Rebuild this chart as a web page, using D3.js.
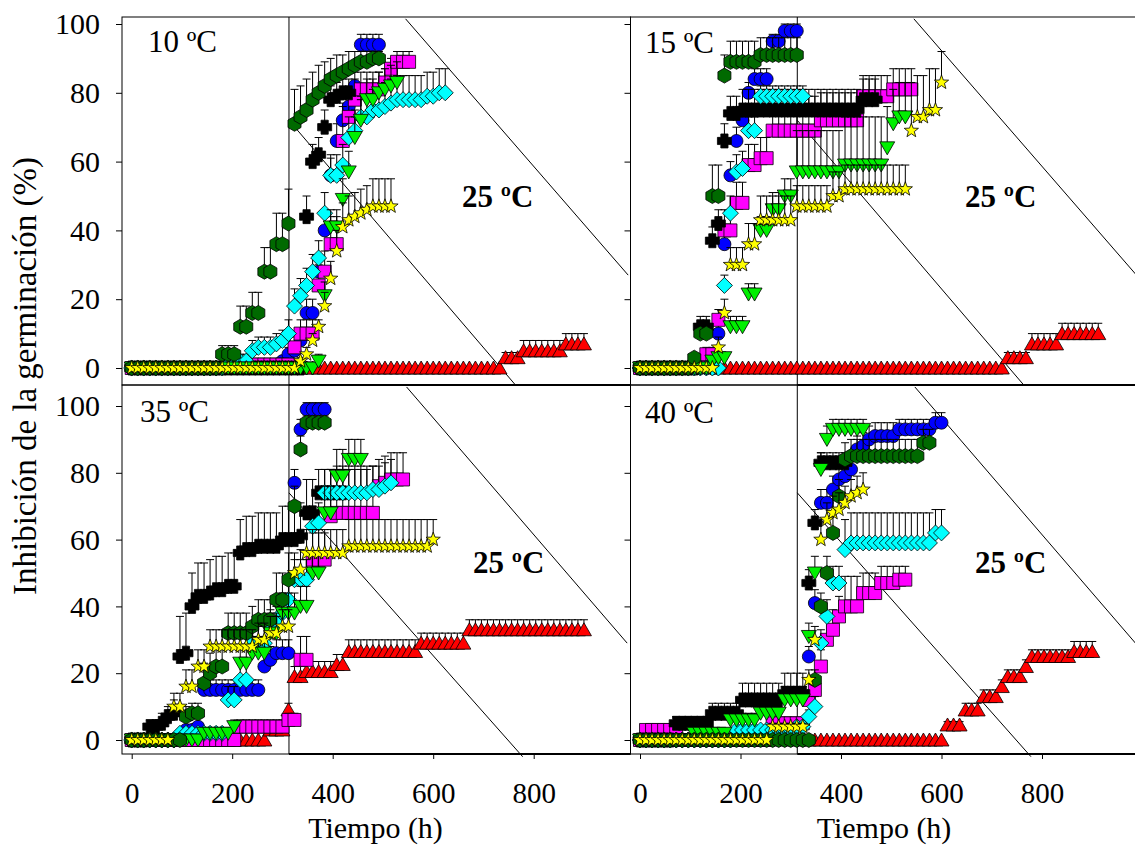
<!DOCTYPE html>
<html><head><meta charset="utf-8">
<script src="https://cdn.jsdelivr.net/npm/d3@7"></script>
<style>
body{margin:0;background:#fff}
svg{display:block}
text{font-family:"Liberation Serif","Times New Roman",serif;fill:#000}
</style>
</head><body>
<svg id="chart" width="1135" height="846"></svg>
<script>
// ---------------- DATA ----------------
const STEP = 12;                       // hours between readings
const xTicks = [0, 200, 400, 600, 800];
const yTicks = [0, 20, 40, 60, 80, 100];
const panelTitles = ["10 ºC", "15 ºC", "35 ºC", "40 ºC"];
const transferLabel = "25 ºC";
const transferTime = 313;
const xTitle = "Tiempo (h)";
const yTitle = "Inhibición de la germinación (%)";
// series order: red triangle, blue circle, magenta square, black cross, cyan diamond, green down-triangle, dark-green hexagon, yellow star
const seriesKeys = ["red", "blue", "magenta", "black", "cyan", "lgreen", "hex", "star"];

// ---- 10 ºC ----
const c10_start = [324, 0, 0, 0, 0, 0, 0, 0];
const c10_red = [0,0,0,0,0, 0,0,0,0,0, 0,0,0,0,0, 0,0,0,0,0, 0,0,0,0,0, 0,0,0,0,0, 0,0,0,0,0, 3,3,3,5,5,5,5,5,5,5,7,7,7,7];
const c10_red_err = [0,0,0,0,0, 0,0,0,0,0, 0,0,0,0,0, 0,0,0,0,0, 0,0,0,0,0, 0,0,0,0,0, 0,0,0,0,0, 1.5,1.5,1.5,3,3,3,3,3,3,3,3,3,3,3];
const c10_blue = [0,0,0,0,0, 0,0,0,0,0, 0,0,0,0,0, 0,0,0,0,0, 0,0,0,0,0, 2,4,5,8,16,16,28,40,56,66,72,76,82,94,94,94,94];
const c10_blue_err = [0,0,0,0,0, 0,0,0,0,0, 0,0,0,0,0, 0,0,0,0,0, 0,0,0,0,0, 1,2,2,3,4,4,5,5,5,5,5,5,4,3,3,3,3];
const c10_magenta = [0,0,0,0,0, 0,0,0,0,0, 0,0,0,0,0, 0,0,0, 1,1,1,1,1,1,1,1,1, 6,10,10,10,24,28,36,36,66,73,78,81,81,81,81,83,87,89,89,89];
const c10_magenta_err = [0,0,0,0,0, 0,0,0,0,0, 0,0,0,0,0, 0,0,0, 1,1,1,1,1,1,1,1,1, 3,4,4,4,6,6,8,8,10,8,6,5,5,5,5,4,3,3,3,3];
const c10_black = [0,0,0,0,0, 0,0,0,0,0, 0,0,0,0,0, 0,0,0,0,0, 0,0,0,0,0, 0,0,0,0, 44,60,62,70,78,79,80,80];
const c10_black_err = [0,0,0,0,0, 0,0,0,0,0, 0,0,0,0,0, 0,0,0,0,0, 0,0,0,0,0, 0,0,0,0, 6,5,5,5,4,4,4,4];
const c10_cyan = [0,0,0,0,0, 0,0,0,0,0, 0,0,0,0,0, 0, 1,1,2,2,5,6,6,6,7,8,10, 18,21,24,28,32,45,56,56,59,67,69,73,73,75,75,76,77,78,78,78,78,78,79,79,80,80];
const c10_cyan_err = [0,0,0,0,0, 0,0,0,0,0, 0,0,0,0,0, 0, 1,1,2,2,3,3,3,3,3,3,4, 5,5,5,5,5,6,6,6,6,6,6,6,6,6,6,7,7,7,7,7,7,7,7,7,7,7];
const c10_lgreen = [0,0,0,0,0, 0,0,0,0,0, 0,0,0,0,0, 0,0,0,0,0, 0,0,0,0,0, 0,0,0,0,0, 0, 2,21,41,41,49,57,67,72,78,78,80,81,82,83];
const c10_lgreen_err = [0,0,0,0,0, 0,0,0,0,0, 0,0,0,0,0, 0,0,0,0,0, 0,0,0,0,0, 0,0,0,0,0, 0, 2,4,5,5,6,6,6,6,6,6,6,6,6,6];
const c10_hex = [0,0,0,0,0, 0,0,0,0,0, 0,0,0,0,0, 4,4,4,12,12,16,16,28,28,36,36,42, 71,73,75,78,80,82,84,85,86,87,88,89,89,90,90];
const c10_hex_err = [0,0,0,0,0, 0,0,0,0,0, 0,0,0,0,0, 2.5,2.5,2.5,6,6,6,6,7,7,9,9,10, 10,9,9,8,8,7,6,6,5,5,4,3,3,2,2];
const c10_star = [0,0,0,0,0, 0,0,0,0,0, 0,0,0,0,0, 0,0,0,0,0, 0,0,0,0,0, 0,0,0, 2,4,8,12,18,26,34,41,43,44,45,46,47,47,47,47];
const c10_star_err = [0,0,0,0,0, 0,0,0,0,0, 0,0,0,0,0, 0,0,0,0,0, 0,0,0,0,0, 0,0,0, 1,2,2,2,4,5,6,7,7,7,7,7,8,8,8,8];

// ---- 15 ºC ----
const c15_start = [144, 0, 0, 0, 0, 0, 0, 0];
const c15_red = [0,0,0,0,0, 0,0,0,0,0, 0,0,0,0,0, 0,0,0,0,0, 0,0,0,0,0, 0,0,0,0,0, 0,0,0,0,0, 0,0,0,0,0, 0,0,0,0,0, 0,0,0,0, 3,3,3,3,7,7,7,7,7,10,10,10,10,10,10,10];
const c15_red_err = [0,0,0,0,0, 0,0,0,0,0, 0,0,0,0,0, 0,0,0,0,0, 0,0,0,0,0, 0,0,0,0,0, 0,0,0,0,0, 0,0,0,0,0, 0,0,0,0,0, 0,0,0,0, 1.5,1.5,1.5,1.5,3,3,3,3,3,3,3,3,3,3,3,3];
const c15_blue = [0,0,0,0,0, 0,0,0,0,0, 0,0,0, 10,36,56,66,72,80,84,84,84,95,95,98,98,98];
const c15_blue_err = [0,0,0,0,0, 0,0,0,0,0, 0,0,0, 3,4,4,4,4,3,3,3,3,2,2,2,2,2];
const c15_magenta = [0,0,0,0,0, 0,0,0,0,0, 2,4,4,14,40,40,48,48,59,59,61,61, 69,69,69,69,69,69,69,69, 72,72,72,72,72,72,72, 79,79,79,79,79, 81,81,81,81];
const c15_magenta_err = [0,0,0,0,0, 0,0,0,0,0, 1,2,2,3,6,6,6,6,6,6,6,6, 10,10,10,10,10,10,10,10, 8,8,8,8,8,8,8, 6,6,6,6,6, 6,6,6,6];
const c15_black = [0,0,0,0,0, 0,0,0,0,0, 12,12,37,42,66,74,74, 75,75,75,75,75,75,75,75,75,75,75,75,75,75,75,75,75,75,75,75, 78,78,78];
const c15_black_err = [0,0,0,0,0, 0,0,0,0,0, 3,3,4,4,5,5,5, 6,6,6,6,6,6,6,6,6,6,6,6,6,6,6,6,6,6,6,6, 6,6,6];
const c15_cyan = [0,0,0,0,0, 0,0,0,0,0, 0,0,0,0, 24,45,57,58,69,69, 79,79,79,79,79,79,79,79];
const c15_cyan_err = [0,0,0,0,0, 0,0,0,0,0, 0,0,0,0, 3,5,5,5,4,4, 3,3,3,3,3,3,3,3];
const c15_lgreen = [0,0,0,0,0, 0,0,0,0,0, 0,0, 2,3,3,12,12,12,21.5,21.5,40,40,46,46,50,50, 57,57,57,57,57,57,57,57, 59,59,59,59,59,59,59, 64,71,73,73];
const c15_lgreen_err = [0,0,0,0,0, 0,0,0,0,0, 0,0, 1,1,1,3,3,3,3,3,4,4,5,5,5,5, 12,12,12,12,12,12,12,12, 14,14,14,14,14,14,14, 12,10,10,10];
const c15_hex = [0,0,0,0,0, 0,0,0,0, 3,10,10,50,50,85,89,89,89,89,89,91,91,91,91,91,91,91];
const c15_hex_err = [0,0,0,0,0, 0,0,0,0, 1,3,3,9,9,6,6,6,6,6,6,5,5,5,5,5,5,5];
const c15_star = [0,0,0,0,0, 0,0,0,0,0, 0,0,0, 6,16,30,30,30,36,36, 43,43,43,43,43,43, 47,47,47,47,47,47, 50,50, 52,52,52,52,52,52,52,52,52,52,52, 69,73,73,75,75,83];
const c15_star_err = [0,0,0,0,0, 0,0,0,0,0, 0,0,0, 3,4,5,5,5,6,6, 7,7,7,7,7,7, 6,6,6,6,6,6, 7,7, 7,7,7,7,7,7,7,7,7,7,7, 14,12,12,12,12,9];

// ---- 35 ºC ----
const c35_start = [132, 0, 0, 0, 0, 0, 0, 0];
const c35_red = [0,0,0,0,0, 0,0,0,0,0, 0,0, 3,3,3,9,19,19, 20.5,20.5,20.5,20.5,20.5, 22.6,22.6, 26.5,26.5,26.5,26.5,26.5,26.5,26.5,26.5,26.5,26.5,26.5,26.5, 29,29,29,29,29,29,29,29, 33,33,33,33,33,33,33,33,33,33,33,33,33,33,33,33,33,33,33,33];
const c35_red_err = [0,0,0,0,0, 0,0,0,0,0, 0,0, 1,1,1,2,3,3, 3,3,3,3,3, 3,3, 3.5,3.5,3.5,3.5,3.5,3.5,3.5,3.5,3.5,3.5,3.5,3.5, 3,3,3,3,3,3,3,3, 3,3,3,3,3,3,3,3,3,3,3,3,3,3,3,3,3,3,3,3];
const c35_blue = [0,0,0,0,0, 0,0,0,0, 3,3,4, 15,15,15,15,15,15,15,15,15,15, 22,24,26,26,26,77,93,99,99,99,99];
const c35_blue_err = [0,0,0,0,0, 0,0,0,0, 1,1,1, 3,3,3,3,3,3,3,3,3,3, 4,4,4,4,4,4,3,2,2,2,2];
const c35_magenta = [0,0,0,0,0, 0,0,0,0,0, 0,0,0,0,0, 0,0,0, 4,4,4,4,4,4,4,4, 6,6,24,24,54,54,54,67, 68,68,68,68,68,68,68, 76,77,78,78,78];
const c35_magenta_err = [0,0,0,0,0, 0,0,0,0,0, 0,0,0,0,0, 0,0,0, 2,2,2,2,2,2,2,2, 2,2,7,7,8,8,8,14, 14,14,14,14,14,14,14, 8,8,8,8,8];
const c35_black = [0,0,0,4,4,5,7,8,25,26,40,43,43,44,45,45,46,46,56,57,57,58,58,58,58,60,60,60,61,68,68,74,74,74,74,74];
const c35_black_err = [0,0,0,2,2,3,3,4,12,12,10,10,10,10,10,10,10,10,10,10,10,10,10,10,10,10,10,10,10,10,10,7,7,7,7,7];
const c35_cyan = [0,0,0,0,0, 0,0,0, 2,2,2,2,2,2,2,2, 12,12,18,18,29,29,29,34,35,38,42,48,48,48,64,65, 74,74,74,74,74,74,74,74, 75,75,76,77];
const c35_cyan_err = [0,0,0,0,0, 0,0,0, 1,1,1,1,1,1,1,1, 4,4,5,5,5,5,5,5,5,6,6,6,6,6,6,6, 7,7,7,7,7,7,7,7, 7,7,7,7];
const c35_lgreen = [0,0,0,0,0, 0,0,0,0,0, 0,0, 2,2,2,2,2, 4,23,23,26,26,26,32,32,38,38,38,40,40,50,50,68,68,79,79,84,84,84];
const c35_lgreen_err = [0,0,0,0,0, 0,0,0,0,0, 0,0, 1,1,1,1,1, 2,5,5,5,5,5,6,6,6,6,6,6,6,6,6,8,8,8,8,6,6,6];
const c35_hex = [0,0,0,0,0, 0,0,0,0, 7,8,8,17,20,22,22,32,32,32,32,34,36,36,36,42,42,48,70,87,95,95,95,95];
const c35_hex_err = [0,0,0,0,0, 0,0,0,0, 3,3,3,6,6,6,6,6,6,6,6,6,6,6,6,8,8,8,6,4,2,2,2,2];
const c35_star = [0,0,0,0,0, 0,0, 10,10,16,16,22,22, 28,28,28,28,28,28,28,28, 30,30,32,32,34,34, 50,51, 56,56,56,56,56,56,56, 58,58,58,58,58,58,58,58,58,58,58,58,58,58, 60];
const c35_star_err = [0,0,0,0,0, 0,0, 4,4,5,5,5,5, 5,5,5,5,5,5,5,5, 5,5,5,5,5,5, 6,6, 7,7,7,7,7,7,7, 8,8,8,8,8,8,8,8,8,8,8,8,8,8, 6];

// ---- 40 ºC ----
const c40_start = [336, 0, 0, 0, 0, 0, 0, 0];
const c40_red = [0,0,0,0,0, 0,0,0,0,0, 0,0,0,0,0, 0,0,0,0,0, 0,0,0, 4.5,4.5,4.5,9,9,9,13,13,13,16,19,19,19,22, 25,25,25,25,25,25,25, 26.5,26.5,26.5,26.5];
const c40_red_err = [0,0,0,0,0, 0,0,0,0,0, 0,0,0,0,0, 0,0,0,0,0, 0,0,0, 1,1,1,2,2,2,2,2,2,2,2,2,2,2, 2,2,2,2,2,2,2, 3,3,3,3];
const c40_blue = [0,0,0,0,0, 0,0,0,0,0, 0,0,0,0,0, 0,0,0,0,0, 0,0,0,0,0, 0,0,0, 25,41,71,71,75,78,79,81,87,88,90, 91,91,91,91, 93,93,93,93,93,93, 95,95];
const c40_blue_err = [0,0,0,0,0, 0,0,0,0,0, 0,0,0,0,0, 0,0,0,0,0, 0,0,0,0,0, 0,0,0, 3,4,4,4,4,4,4,4,4,4,4, 4,4,4,4, 3,3,3,3,3,3, 3,3];
const c40_magenta = [0, 3,3,3,3,3,3, 0,0,0,0,0, 0,0,0,0,0, 0,0,0,0,0, 5,5,5,5,5,5, 12,15,22,30,33,37,40,40,40,44,44,44,47,47,47,48,48];
const c40_magenta_err = [0, 1,1,1,1,1,1, 0,0,0,0,0, 0,0,0,0,0, 0,0,0,0,0, 1,1,1,1,1,1, 3,4,5,6,6,6,9,9,9,6,6,6,5,5,5,4,4];
const c40_black = [0,0,0,0,0,0, 5,5,5,5,5,5, 8,8,8,8,8, 12,12,12,12,12,12,12, 14,14,14,14, 47,65, 83,83,83,83,83];
const c40_black_err = [0,0,0,0,0,0, 2,2,2,2,2,2, 3,3,3,3,3, 5,5,5,5,5,5,5, 6,6,6,6, 4,4, 3,3,3,3,3];
const c40_cyan = [0,0,0,0,0, 0,0,0,0,0, 0,0,0,0,0, 0, 3,3,3,3,3,3,3,3,3,3, 4,4, 7,10,29,37,47,47,57, 59,59,59,59,59,59,59,59,59,59,59,59,59,59, 62,62];
const c40_cyan_err = [0,0,0,0,0, 0,0,0,0,0, 0,0,0,0,0, 0, 1,1,1,1,1,1,1,1,1,1, 1,1, 2,3,4,5,5,5,9, 9,9,9,9,9,9,9,9,9,9,9,9,9,9, 7,7];
const c40_lgreen = [0,0,0,0,0, 0,0,0,0, 2,2,2,2,2,2, 6,6,6,6,6, 8,8,8,8, 12,12,12,12, 31,50,81,90, 93,93,93,93,93,93];
const c40_lgreen_err = [0,0,0,0,0, 0,0,0,0, 1,1,1,1,1,1, 2,2,2,2,2, 3,3,3,3, 4,4,4,4, 4,5,5,4, 3,3,3,3,3,3];
const c40_hex = [0,0,0,0,0, 0,0,0,0,0, 0,0,0,0,0, 0,0,0,0,0, 0,0,0,0,0, 0,0,0,0, 18,40,50,62,73,84, 85,85,85,85,85,85,85,85,85,85,85,85, 89,89];
const c40_hex_err = [0,0,0,0,0, 0,0,0,0,0, 0,0,0,0,0, 0,0,0,0,0, 0,0,0,0,0, 0,0,0,0, 3,4,5,5,5,5, 5,5,5,5,5,5,5,5,5,5,5,5, 4,4];
const c40_star = [0,0,0,0,0, 0,0,0,0,0, 0,0,0,0,0, 0,0,0,0,0, 0,0, 4,4,4,4,4,4, 18,30,60,66,68,69,71,73,74,75];
const c40_star_err = [0,0,0,0,0, 0,0,0,0,0, 0,0,0,0,0, 0,0,0,0,0, 0,0, 1,1,1,1,1,1, 3,4,5,5,5,5,5,5,5,5];

// ---------------- STYLE / LAYOUT ----------------
const style = {
  red:     {shape: "triUp",   fill: "#ff0000"},
  blue:    {shape: "circle",  fill: "#0000ff"},
  magenta: {shape: "square",  fill: "#ff00ff"},
  black:   {shape: "cross",   fill: "#000000"},
  cyan:    {shape: "diamond", fill: "#00ffff"},
  lgreen:  {shape: "triDown", fill: "#00f000"},
  hex:     {shape: "hex",     fill: "#006a00"},
  star:    {shape: "star",    fill: "#ffff00"}
};

function shapePath(kind) {
  switch (kind) {
    case "circle": { const r = 6.5; return `M${r},0A${r},${r} 0 1,1 ${-r},0A${r},${r} 0 1,1 ${r},0Z`; }
    case "square": return "M-6.5,-6.5H6.5V6.5H-6.5Z";
    case "diamond": return "M0,-8L8,0L0,8L-8,0Z";
    case "triUp": return "M0,-7L7.5,6L-7.5,6Z";
    case "triDown": return "M0,7L7.5,-6L-7.5,-6Z";
    case "hex": {
      const r = 7.5, pts = [];
      for (let i = 0; i < 6; i++) { const a = Math.PI / 180 * (-90 + 60 * i); pts.push([r * Math.cos(a), r * Math.sin(a)]); }
      return "M" + pts.map(p => p[0].toFixed(2) + "," + p[1].toFixed(2)).join("L") + "Z";
    }
    case "star": {
      const ro = 7.5, ri = 3.1, pts = [];
      for (let i = 0; i < 10; i++) { const r = i % 2 ? ri : ro; const a = Math.PI / 180 * (-90 + 36 * i); pts.push([r * Math.cos(a), r * Math.sin(a)]); }
      return "M" + pts.map(p => p[0].toFixed(2) + "," + p[1].toFixed(2)).join("L") + "Z";
    }
    case "cross": { const a = 7, b = 3.6; return `M${-b},${-a}H${b}V${-b}H${a}V${b}H${b}V${a}H${-b}V${b}H${-a}V${-b}H${-b}Z`; }
  }
}

const panels = [
  {title: panelTitles[0], col: 0, row: 0, start: c10_start,
   vals: [c10_red, c10_blue, c10_magenta, c10_black, c10_cyan, c10_lgreen, c10_hex, c10_star],
   errs: [c10_red_err, c10_blue_err, c10_magenta_err, c10_black_err, c10_cyan_err, c10_lgreen_err, c10_hex_err, c10_star_err]},
  {title: panelTitles[1], col: 1, row: 0, start: c15_start,
   vals: [c15_red, c15_blue, c15_magenta, c15_black, c15_cyan, c15_lgreen, c15_hex, c15_star],
   errs: [c15_red_err, c15_blue_err, c15_magenta_err, c15_black_err, c15_cyan_err, c15_lgreen_err, c15_hex_err, c15_star_err]},
  {title: panelTitles[2], col: 0, row: 1, start: c35_start,
   vals: [c35_red, c35_blue, c35_magenta, c35_black, c35_cyan, c35_lgreen, c35_hex, c35_star],
   errs: [c35_red_err, c35_blue_err, c35_magenta_err, c35_black_err, c35_cyan_err, c35_lgreen_err, c35_hex_err, c35_star_err]},
  {title: panelTitles[3], col: 1, row: 1, start: c40_start,
   vals: [c40_red, c40_blue, c40_magenta, c40_black, c40_cyan, c40_lgreen, c40_hex, c40_star],
   errs: [c40_red_err, c40_blue_err, c40_magenta_err, c40_black_err, c40_cyan_err, c40_lgreen_err, c40_hex_err, c40_star_err]}
];

const xScales = [d3.scaleLinear().domain([0, 800]).range([131.7, 533.7]),
                 d3.scaleLinear().domain([0, 800]).range([640, 1042])];
const yScales = [d3.scaleLinear().domain([0, 100]).range([368, 24]),
                 d3.scaleLinear().domain([0, 100]).range([740, 406])];
const colX = [[122, 630.5], [630.5, 1140]];
const rowY = [[17, 385], [385, 754]];
const titlePos = [[[148, 52], [645, 53]], [[140, 422], [645, 423]]];
const labelPos = [[[462, 207], [965, 207]], [[473, 573], [975, 573]]];
// diagonal guide lines (data coordinates) per row
const guideLines = [
  [[[313, 72], [764, -5]], [[545, 101.5], [988, 27]]],
  [[[313, 74], [778, -5]], [[547, 105.7], [986, 29]]]
];

const svg = d3.select("#chart");
svg.append("rect").attr("width", 1135).attr("height", 846).attr("fill", "#fff");

panels.forEach(p => {
  const x = xScales[p.col], y = yScales[p.row];
  const [x0, x1] = colX[p.col], [y0, y1] = rowY[p.row];
  const g = svg.append("g");

  // frame
  g.append("rect").attr("x", x0).attr("y", y0).attr("width", x1 - x0).attr("height", y1 - y0)
    .attr("fill", "none").attr("stroke", "#000").attr("stroke-width", 1);
  const xt = x(transferTime);
  g.append("line").attr("x1", xt).attr("x2", xt).attr("y1", y0).attr("y2", y1).attr("stroke", "#000").attr("stroke-width", 1);
  if (p.row === 1) {
    g.append("line").attr("x1", xt).attr("x2", x1).attr("y1", y0).attr("y2", y0).attr("stroke", "#000").attr("stroke-width", 2);
    g.append("line").attr("x1", xt).attr("x2", x1).attr("y1", y1).attr("y2", y1).attr("stroke", "#000").attr("stroke-width", 2);
  }

  // guide lines
  const lineGen = d3.line().x(d => x(d[0])).y(d => y(d[1]));
  guideLines[p.row].forEach(l => {
    g.append("path").attr("d", lineGen(l)).attr("fill", "none").attr("stroke", "#000").attr("stroke-width", 1);
  });

  // y axis
  const yAxis = d3.axisLeft(y).tickValues(yTicks).tickSize(6).tickPadding(16)
    .tickFormat(p.col === 0 ? d3.format("d") : () => "");
  const ya = g.append("g").attr("transform", `translate(${x0},0)`).call(yAxis);
  ya.select(".domain").remove();
  ya.selectAll("text").style("font-size", "30px").style("font-family", "Liberation Serif");
  ya.selectAll("line").attr("stroke", "#000");

  // x axis
  if (p.row === 1) {
    const xAxis = d3.axisBottom(x).tickValues(xTicks).tickSize(5).tickFormat(d3.format("d"));
    const xa = g.append("g").attr("transform", `translate(0,${y1})`).call(xAxis);
    xa.select(".domain").remove();
    xa.selectAll("text").attr("y", 49).attr("dy", 0).style("font-size", "29px").style("font-family", "Liberation Serif");
  }

  // series
  seriesKeys.forEach((k, si) => {
    const vals = p.vals[si], errs = p.errs[si], t0 = p.start[si];
    const pts = vals.map((v, i) => ({t: t0 + i * STEP, v, e: errs[i]}));
    const sg = g.append("g");
    const eb = pts.filter(d => d.e > 0);
    sg.selectAll(".eb").data(eb).join("path")
      .attr("d", d => {
        const px = x(d.t), py = y(d.v), pt = y(d.v + d.e);
        return `M${px},${py}V${pt}M${px - 4},${pt}H${px + 4}`;
      })
      .attr("stroke", "#000").attr("stroke-width", 1).attr("fill", "none");
    const st = style[k];
    sg.selectAll(".mk").data(pts).join("path")
      .attr("d", shapePath(st.shape))
      .attr("transform", d => `translate(${x(d.t)},${y(d.v)})`)
      .attr("fill", st.fill).attr("stroke", "#000").attr("stroke-width", 0.8);
  });

  // titles
  const tp = titlePos[p.row][p.col];
  g.append("text").attr("x", tp[0]).attr("y", tp[1]).style("font-size", "31px").text(p.title);
  const lp = labelPos[p.row][p.col];
  g.append("text").attr("x", lp[0]).attr("y", lp[1]).style("font-size", "31px").style("font-weight", "bold").text(transferLabel);
});

// axis titles
svg.append("text").attr("transform", "translate(36,376) rotate(-90)").attr("text-anchor", "middle")
  .style("font-size", "33px").text(yTitle);
[375.5, 884].forEach(cx => {
  svg.append("text").attr("x", cx).attr("y", 838).attr("text-anchor", "middle").style("font-size", "30px").text(xTitle);
});
</script>
</body></html>
